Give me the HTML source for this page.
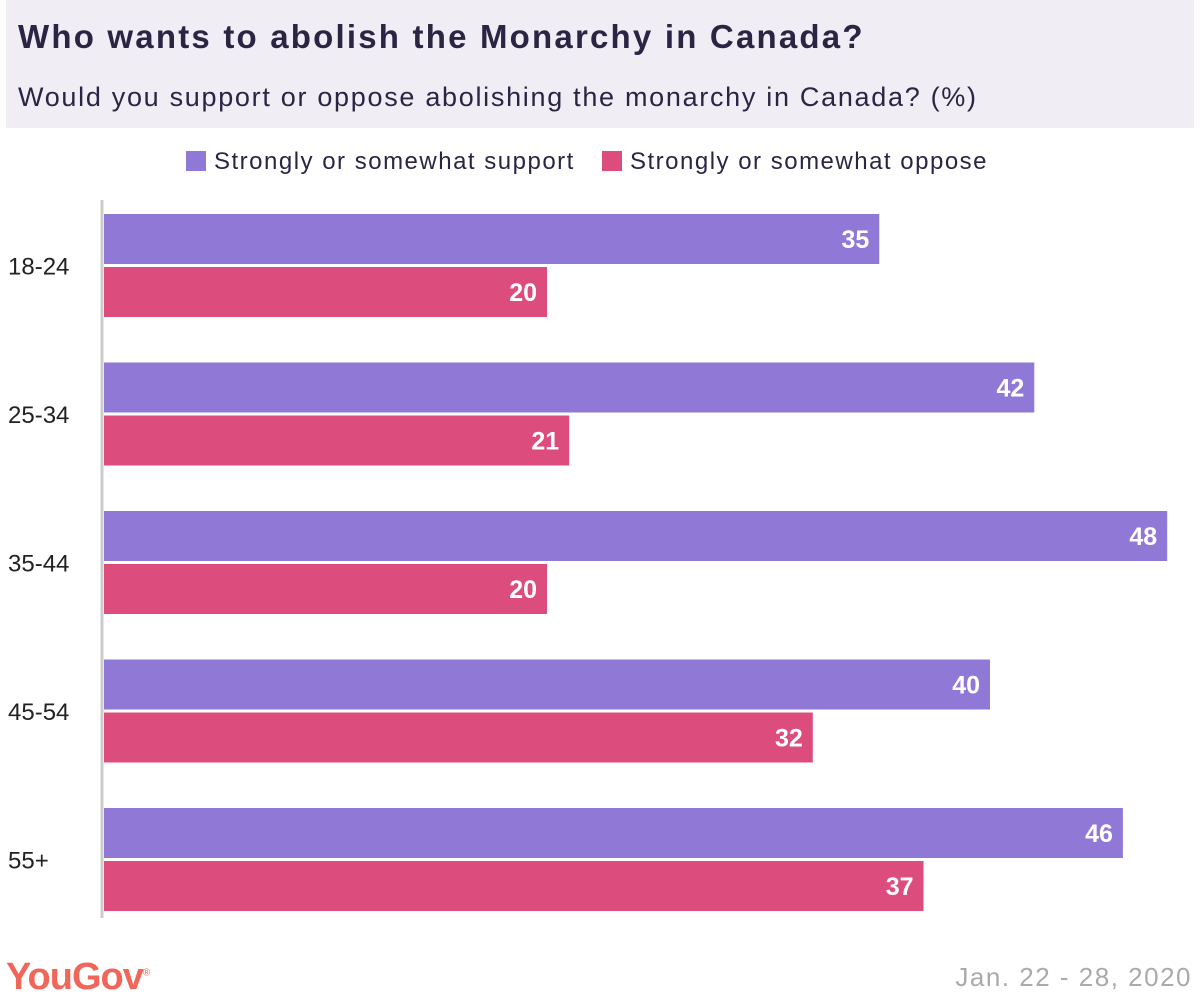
<!DOCTYPE html>
<html><head><meta charset="utf-8">
<style>
body{margin:0;width:1200px;height:1000px;background:#fff;font-family:"Liberation Sans",sans-serif;position:relative;overflow:hidden}
#hdr{position:absolute;left:6px;top:0;width:1188px;height:128px;background:#f0edf5}
#title{position:absolute;left:18px;top:18px;font-size:33px;font-weight:bold;color:#2b2544;letter-spacing:2.2px}
#sub{position:absolute;left:18px;top:82px;font-size:27px;color:#2b2544;letter-spacing:1.7px}
.leg{position:absolute;top:148px;font-size:24px;color:#2b2544;letter-spacing:1.5px}
.sw{display:inline-block;width:20px;height:20px;vertical-align:-2px;margin-right:8px}
#logo{position:absolute;left:6px;top:956px;font-size:38px;font-weight:bold;color:#f0665a;letter-spacing:-1px}
#logo sup{font-size:10px;font-weight:normal}
#date{position:absolute;right:8px;top:962px;font-size:26px;color:#aaa;letter-spacing:1.5px}
</style></head><body>
<div id="hdr"></div>
<div id="title">Who wants to abolish the Monarchy in Canada?</div>
<div id="sub">Would you support or oppose abolishing the monarchy in Canada? (%)</div>
<div class="leg" style="left:186px"><span class="sw" style="background:#9078d6"></span>Strongly or somewhat support</div>
<div class="leg" style="left:602px"><span class="sw" style="background:#dc4d7e"></span>Strongly or somewhat oppose</div>
<svg id="chart" width="1200" height="1000" style="position:absolute;left:0;top:0"></svg>
<div id="logo">YouGov<sup>®</sup></div>
<div id="date">Jan. 22 - 28, 2020</div>
<script>
const categories=["18-24","25-34","35-44","45-54","55+"];
const support=[35,42,48,40,46];
const oppose=[20,21,20,32,37];
const svg=document.getElementById('chart');
const NS='http://www.w3.org/2000/svg';
const x0=104, unit=22.15, top0=214, step=148.5, bh=50, gap=3;
const xs=v=>v*unit;
function mk(t,a){const e=document.createElementNS(NS,t);for(const k in a)e.setAttribute(k,a[k]);svg.appendChild(e);return e;}
const ax=mk('line',{x1:102,x2:102,y1:200,y2:918,stroke:'#ccc','stroke-width':3});


categories.forEach((c,i)=>{
  const y=top0+i*step;
  const lab=mk('text',{x:8,y:y+bh+gap/2+9,'font-size':24,fill:'#222','font-family':'Liberation Sans, sans-serif'});
  lab.textContent=c;
  
  
  [[support[i],'#9078d6',y,'bar-support'],[oppose[i],'#dc4d7e',y+bh+gap,'bar-oppose']].forEach(([v,col,yy,nm])=>{
    const r=mk('rect',{x:x0,y:yy,width:xs(v),height:bh,fill:col});
    
    
    const t=mk('text',{x:x0+xs(v)-10,y:yy+bh/2+9,'text-anchor':'end','font-size':25,'font-weight':'bold',fill:'#fff','font-family':'Liberation Sans, sans-serif'});
    t.textContent=v;
    
    
  });
});
</script>
</body></html>
